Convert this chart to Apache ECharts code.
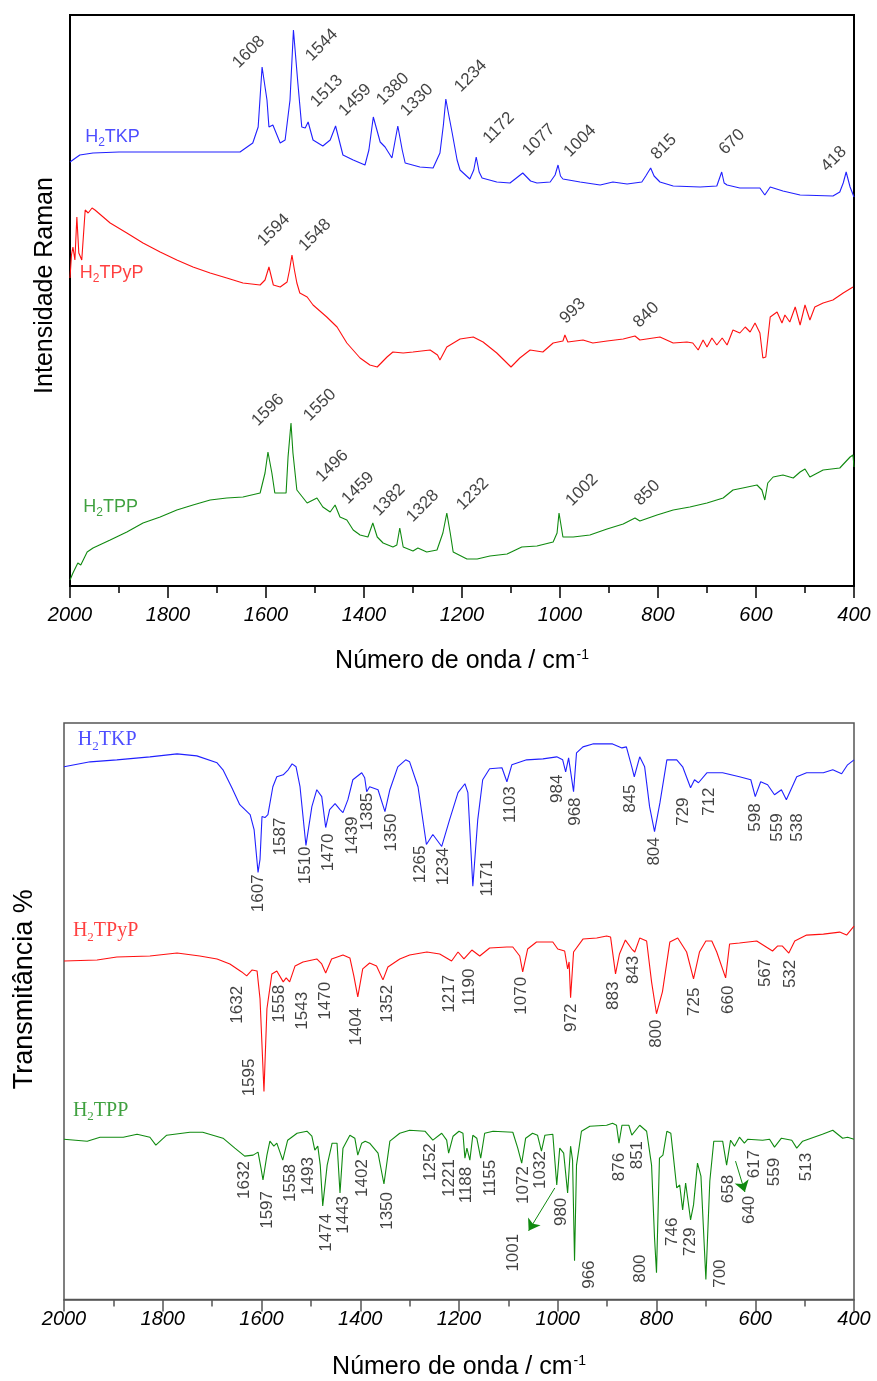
<!DOCTYPE html>
<html><head><meta charset="utf-8">
<script src="https://cdn.jsdelivr.net/npm/echarts@6/dist/echarts.min.js"></script>
<style>html,body{margin:0;padding:0;background:#fff}#c{width:877px;height:1381px}</style>
</head><body><div id="c"></div>
<script>
// ---------- DATA (wavenumber cm-1, intensity in arbitrary units) ----------
const xTicks = [2000,1800,1600,1400,1200,1000,800,600,400];

const ramanTKP = [[2000,424],[1980,431],[1953,433],[1900,434],[1800,434],[1700,434],[1653,434],[1627,443],[1616,459],[1608,519],[1598,486],[1594,459],[1586,461],[1571,443],[1561,446],[1551,486],[1544,556],[1535,503],[1527,459],[1520,458],[1514,464],[1504,446],[1484,440],[1469,446],[1458,460],[1443,431],[1422,426],[1398,421],[1390,436],[1381,469],[1367,444],[1357,439],[1343,428],[1331,460],[1322,436],[1316,423],[1286,419],[1259,418],[1245,433],[1238,461],[1233,487],[1227,471],[1220,453],[1210,426],[1204,416],[1184,407],[1176,416],[1171,429],[1165,414],[1159,408],[1129,404],[1102,403],[1076,413],[1060,405],[1047,403],[1020,404],[1010,411],[1004,421],[999,410],[994,407],[959,404],[918,401],[892,404],[863,402],[833,404],[825,410],[815,418],[808,410],[796,404],[769,400],[714,399],[680,400],[670,414],[665,403],[659,401],[633,398],[592,398],[582,391],[571,399],[545,395],[510,391],[443,390],[429,394],[422,403],[416,414],[408,399],[400,389]];

const ramanTPyP = [[2000,308],[1997,331],[1994,339],[1990,326],[1986,369],[1982,333],[1976,326],[1969,376],[1963,373],[1955,378],[1949,376],[1918,363],[1884,353],[1851,343],[1816,334],[1782,326],[1749,319],[1714,313],[1680,308],[1647,303],[1612,301],[1602,306],[1594,319],[1585,301],[1571,299],[1557,304],[1552,316],[1547,331],[1542,316],[1537,303],[1531,293],[1516,289],[1504,281],[1476,269],[1455,259],[1435,243],[1408,228],[1388,221],[1373,219],[1353,229],[1341,234],[1320,233],[1300,234],[1265,236],[1250,231],[1245,226],[1231,239],[1204,247],[1177,249],[1157,244],[1129,233],[1100,219],[1082,228],[1061,236],[1035,234],[1014,243],[994,245],[990,251],[984,244],[953,246],[933,243],[904,245],[871,247],[847,250],[837,246],[796,249],[769,243],[741,244],[729,243],[718,236],[708,246],[700,239],[690,248],[680,241],[669,248],[659,241],[647,256],[633,253],[622,259],[612,254],[602,263],[592,253],[586,228],[580,229],[571,269],[557,274],[547,263],[541,271],[531,264],[520,279],[510,261],[500,281],[490,266],[480,279],[463,283],[443,286],[422,293],[402,299]];

const ramanTPP = [[2000,6],[1994,13],[1984,23],[1978,21],[1965,34],[1953,38],[1918,46],[1884,54],[1851,63],[1816,69],[1782,76],[1749,81],[1714,86],[1680,88],[1647,89],[1612,93],[1602,113],[1596,134],[1588,113],[1582,93],[1559,93],[1555,129],[1549,163],[1545,133],[1537,96],[1516,83],[1496,88],[1484,79],[1469,74],[1459,81],[1449,69],[1435,66],[1422,56],[1408,51],[1392,49],[1382,63],[1373,49],[1361,43],[1341,39],[1333,41],[1327,58],[1320,39],[1300,35],[1290,38],[1272,34],[1251,36],[1239,53],[1231,73],[1224,53],[1218,34],[1198,29],[1190,27],[1169,27],[1143,30],[1108,32],[1078,39],[1047,40],[1014,44],[1006,53],[1002,73],[994,49],[973,49],[939,51],[904,57],[871,62],[847,68],[837,65],[802,71],[769,76],[735,79],[700,83],[667,88],[647,96],[627,98],[598,101],[588,96],[582,86],[576,103],[565,109],[545,111],[524,108],[510,114],[500,117],[490,109],[463,116],[429,118],[408,129],[402,131],[400,119]];

const irTKP = [[2000,535],[1947,540],[1893,542],[1826,545],[1771,548],[1731,546],[1690,539],[1678,532],[1660,514],[1644,497],[1623,487],[1615,472],[1607,429],[1603,442],[1599,485],[1593,484],[1587,487],[1577,515],[1569,525],[1556,527],[1546,532],[1538,538],[1530,535],[1522,515],[1510,456],[1498,495],[1488,512],[1478,505],[1470,474],[1462,492],[1451,498],[1441,492],[1435,489],[1425,502],[1415,522],[1397,529],[1391,524],[1387,510],[1381,515],[1364,512],[1350,490],[1340,512],[1324,535],[1308,542],[1300,540],[1283,515],[1266,457],[1253,467],[1235,455],[1219,482],[1202,509],[1188,518],[1182,509],[1172,415],[1162,482],[1152,522],[1138,533],[1113,534],[1103,520],[1093,537],[1063,542],[1030,543],[1002,545],[990,542],[984,530],[978,544],[968,510],[962,549],[949,555],[929,558],[889,558],[870,554],[861,555],[850,535],[845,525],[834,545],[824,535],[814,495],[804,470],[793,499],[779,542],[759,542],[747,535],[731,514],[723,522],[715,519],[698,529],[666,529],[632,525],[609,522],[600,505],[589,520],[575,517],[561,507],[547,512],[537,502],[516,525],[496,529],[462,529],[443,532],[425,528],[413,537],[400,542]];

const irTPyP = [[2000,340],[1933,341],[1893,344],[1826,345],[1771,348],[1725,345],[1690,342],[1664,337],[1640,329],[1630,325],[1619,331],[1609,330],[1603,302],[1595,209],[1589,292],[1579,327],[1569,330],[1556,319],[1550,323],[1543,319],[1532,335],[1516,339],[1488,342],[1478,337],[1470,328],[1458,342],[1435,346],[1421,343],[1413,325],[1405,304],[1395,332],[1381,338],[1367,335],[1354,321],[1344,334],[1320,342],[1300,346],[1265,349],[1239,347],[1215,340],[1202,349],[1190,342],[1174,351],[1158,345],[1138,353],[1103,354],[1091,354],[1077,345],[1071,329],[1061,352],[1043,359],[1010,359],[1000,352],[986,350],[980,332],[977,339],[974,303],[968,349],[949,362],[921,363],[901,365],[893,364],[883,327],[875,347],[863,361],[850,352],[844,349],[834,363],[820,360],[810,319],[800,287],[788,309],[773,359],[757,363],[739,349],[725,322],[713,349],[700,360],[688,360],[678,349],[660,323],[652,357],[632,358],[597,360],[565,350],[555,355],[545,355],[532,348],[520,360],[496,366],[462,367],[429,369],[415,366],[400,375]];

const irTPP = [[2000,161],[1953,159],[1927,163],[1880,163],[1852,166],[1826,163],[1814,155],[1792,165],[1745,168],[1719,168],[1678,162],[1654,152],[1634,144],[1617,145],[1607,148],[1601,132],[1597,120],[1589,145],[1583,159],[1575,154],[1569,157],[1557,140],[1547,160],[1528,167],[1508,169],[1498,164],[1492,150],[1486,154],[1481,135],[1476,94],[1467,135],[1457,157],[1447,157],[1441,107],[1435,152],[1421,165],[1411,162],[1405,145],[1397,157],[1390,159],[1381,157],[1364,147],[1352,116],[1340,159],[1320,167],[1300,170],[1269,169],[1253,160],[1235,167],[1225,160],[1221,147],[1212,164],[1200,169],[1192,167],[1188,142],[1184,152],[1178,140],[1172,165],[1164,162],[1156,142],[1148,167],[1131,169],[1091,168],[1081,152],[1073,137],[1065,162],[1051,167],[1041,165],[1033,149],[1026,165],[1010,166],[1002,115],[996,152],[988,147],[980,107],[974,154],[970,140],[966,39],[962,135],[952,169],[935,174],[901,175],[889,177],[881,175],[876,157],[870,175],[856,175],[850,165],[834,175],[820,169],[810,135],[804,62],[800,27],[794,142],[787,145],[779,169],[771,167],[767,149],[759,112],[753,115],[747,90],[741,117],[731,80],[725,95],[717,137],[710,124],[700,20],[692,119],[684,159],[666,159],[658,135],[650,160],[642,154],[632,163],[622,157],[615,161],[585,160],[571,161],[561,153],[547,162],[526,160],[516,152],[504,159],[464,166],[443,170],[423,162],[413,163],[400,161]];

// peak labels: [text, label-centre wavenumber, label-centre height]
const ramanTKPPeaks = [['1608',1635,534],['1544',1486,541],['1513',1476,495],['1459',1418,486],['1380',1341,497],['1330',1292,486],['1234',1182,510],['1172',1125,458],['1077',1043,446],['1004',959,445],['815',788,439],['670',649,444],['418',441,427]];
const ramanTPyPPeaks = [['1594',1584,356],['1548',1500,351],['993',974,275],['840',824,271]];
const ramanTPPPeaks = [['1596',1596,176],['1550',1490,181],['1496',1465,120],['1459',1412,98],['1382',1349,86],['1328',1280,80],['1232',1178,92],['1002',955,96],['850',822,93]];
const irTKPPeaks = [['1607',1607,408],['1587',1562,465],['1510',1512,436],['1470',1465,449],['1439',1417,466],['1385',1386,490],['1350',1338,469],['1265',1279,437],['1234',1232,435],['1171',1143,423],['1103',1097,497],['984',1001,513],['968',965,490],['845',854,503],['804',805,450],['729',746,490],['712',694,500],['598',600,484],['559',556,474],['538',515,474]];
const irTPyPPeaks = [['1632',1650,296],['1595',1625,223],['1558',1563,297],['1543',1518,290],['1470',1470,300],['1404',1407,274],['1352',1346,297],['1217',1219,307],['1190',1180,314],['1070',1073,305],['972',972,283],['883',887,305],['843',846,331],['800',800,267],['725',723,299],['660',654,301],['567',579,328],['532',530,327]];
const irTPPPeaks = [['1632',1635,120],['1597',1589,90],['1558',1542,117],['1493',1506,124],['1474',1469,67],['1443',1435,85],['1402',1396,122],['1350',1346,89],['1252',1259,138],['1221',1219,122],['1188',1186,115],['1155',1137,122],['1072',1070,115],['1032',1036,130],['1001',1091,47],['980',992,88],['966',937,25],['876',876,133],['851',838,145],['800',832,31],['746',767,68],['729',731,58],['700',670,26],['658',654,111],['640',613,90],['617',601,136],['559',561,128],['513',496,133]];
// arrows on the H2TPP infrared trace: [from wn, from height, to wn, to height]
const irTPPArrows = [[1006,112,1059,69],[640,139,621,108]];

// sample names: [rich text, left wavenumber, centre height]
const ramanNames = [['H{s|2}TKP',1969,449],['H{s|2}TPyP',1980,313],['H{s|2}TPP',1973,79]];
const irNames = [['H{s|2}TKP',1972,562],['H{s|2}TPyP',1982,370],['H{s|2}TPP',1982,190]];

// ---------- STYLE ----------
const BLUE = '#2020ff', RED = '#ff1010', GREEN = '#108a10';
const SANS = 'Liberation Sans, Arial, sans-serif';
const SERIF = 'Liberation Serif, Times New Roman, serif';
const colorsOf = [BLUE, RED, GREEN];

function xAxis(gi, color, lw, margin, gap) {
  return {
    type: 'value', gridIndex: gi, min: 400, max: 2000, interval: 200, inverse: true,
    axisLine: { show: true, onZero: false, lineStyle: { color: color, width: lw } },
    axisTick: { show: true, length: 12, lineStyle: { color: color, width: 1.5 } },
    minorTick: { show: true, splitNumber: 2, length: 7, lineStyle: { color: color, width: 1.5 } },
    splitLine: { show: false }, minorSplitLine: { show: false },
    axisLabel: { margin: margin, fontFamily: SANS, fontStyle: 'italic', fontSize: 20, color: '#000',
      formatter: v => (xTicks.indexOf(v) >= 0 ? String(v) : '') },
    name: 'Número de onda / cm{sup|-1}', nameLocation: 'middle', nameGap: gap,
    nameTextStyle: { fontFamily: SANS, fontSize: 25, color: '#000',
      rich: { sup: { fontFamily: SANS, fontSize: 14, color: '#000', verticalAlign: 'top', padding: [0, 0, 12, 1] } } }
  };
}
function yAxis(gi, max, name, gap, size, shift) {
  return {
    type: 'value', gridIndex: gi, min: 0, max: max,
    axisLine: { show: false }, axisTick: { show: false }, axisLabel: { show: false }, splitLine: { show: false },
    name: name, nameLocation: 'middle', nameRotate: 90, nameGap: gap,
    nameTextStyle: { fontFamily: SANS, fontSize: size, color: '#000', padding: [0, 0, 0, shift] }
  };
}
function lineSeries(data, gi, color, extra) {
  return Object.assign({
    type: 'line', xAxisIndex: gi, yAxisIndex: gi, data: data, showSymbol: false, symbol: 'none',
    lineStyle: { color: color, width: 1.1 }, silent: true, z: 3
  }, extra || {});
}
function peakSeries(peaks, gi, rot, size) {
  return {
    type: 'scatter', xAxisIndex: gi, yAxisIndex: gi, symbolSize: 0, silent: true, z: 5,
    data: peaks.map(p => ({ name: p[0], value: [p[1], p[2]] })),
    label: { show: true, position: 'inside', rotate: rot, align: 'center', verticalAlign: 'middle',
      formatter: p => p.name, fontFamily: SANS, fontSize: size, color: '#111' }
  };
}
function nameSeries(names, gi, font, size, subSize) {
  return {
    type: 'scatter', xAxisIndex: gi, yAxisIndex: gi, symbolSize: 0, silent: true, z: 5,
    data: names.map((n, i) => ({
      name: n[0], value: [n[1], n[2]],
      label: { color: colorsOf[i], rich: { s: { fontFamily: font, fontSize: subSize, color: colorsOf[i], verticalAlign: 'bottom', lineHeight: size + 6 } } }
    })),
    label: { show: true, position: 'inside', align: 'left', verticalAlign: 'middle',
      formatter: p => p.name, fontFamily: font, fontSize: size, lineHeight: size + 6 }
  };
}

const chart = echarts.init(document.getElementById('c'), null, { renderer: 'canvas' });
chart.setOption({
  animation: false,
  backgroundColor: '#fff',
  grid: [
    { left: 70, top: 15, width: 784, height: 571, show: true, borderColor: '#000', borderWidth: 2 },
    { left: 64, top: 723, width: 790, height: 579, show: true, borderColor: '#555', borderWidth: 1.5 }
  ],
  xAxis: [xAxis(0, '#000', 2, 19, 62), xAxis(1, '#555', 1.5, 10, 55)],
  yAxis: [yAxis(0, 571, 'Intensidade Raman', 12, 25, 30), yAxis(1, 579, 'Transmitância %', 26, 27, 44)],
  series: [
    lineSeries(ramanTKP, 0, BLUE),
    lineSeries(ramanTPyP, 0, RED),
    lineSeries(ramanTPP, 0, GREEN),
    lineSeries(irTKP, 1, BLUE),
    lineSeries(irTPyP, 1, RED),
    lineSeries(irTPP, 1, GREEN, {
      markLine: {
        silent: true, symbol: ['none', 'arrow'], symbolSize: 11, animation: false,
        label: { show: false }, lineStyle: { color: GREEN, width: 1, type: 'solid' },
        data: irTPPArrows.map(a => [{ coord: [a[0], a[1]] }, { coord: [a[2], a[3]] }])
      }
    }),
    peakSeries(ramanTKPPeaks, 0, 45, 17),
    peakSeries(ramanTPyPPeaks, 0, 45, 17),
    peakSeries(ramanTPPPeaks, 0, 45, 17),
    peakSeries(irTKPPeaks, 1, 90, 17),
    peakSeries(irTPyPPeaks, 1, 90, 17),
    peakSeries(irTPPPeaks, 1, 90, 17),
    nameSeries(ramanNames, 0, SANS, 18, 12),
    nameSeries(irNames, 1, SERIF, 20, 13)
  ]
});
</script>
</body></html>
